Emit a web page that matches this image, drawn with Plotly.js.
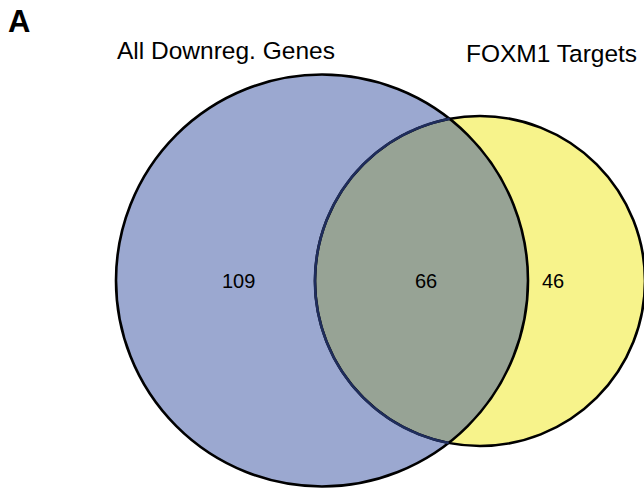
<!DOCTYPE html>
<html>
<head>
<meta charset="utf-8">
<script src="https://cdn.plot.ly/plotly-3.0.1.min.js"></script>
<style>html,body{margin:0;padding:0;background:#fff;}#chart{width:644px;height:493px;}</style>
</head>
<body>
<div id="chart"></div>
<script>
// ---- data ----
const panelLabel = "A";
const setNames = ["All Downreg. Genes", "FOXM1 Targets"];
const regionNames = ["Downreg. only", "Both", "FOXM1 only"];
const regionCounts = [109, 66, 46];

// ---- geometry / styles (layout, not data) ----
const c1 = {x: 322, y: 280.5, r: 206};
const c2 = {x: 480, y: 281, r: 165};
const colBlue = "#9BA8D0", colYellow = "#F7F38B", colOverlap = "#97A395", colNavy = "#1F2D5C";

function arcPts(c, a0, a1, n) {
  const pts = [];
  for (let i = 0; i <= n; i++) {
    const t = a0 + (a1 - a0) * i / n;
    pts.push([c.x + c.r * Math.cos(t), c.y + c.r * Math.sin(t)]);
  }
  return pts;
}
function toPath(pts, close) {
  return pts.map((p, i) => (i ? "L" : "M") + p[0].toFixed(2) + "," + p[1].toFixed(2)).join(" ") + (close ? " Z" : "");
}
const dx = c2.x - c1.x, dy = c2.y - c1.y, d = Math.hypot(dx, dy);
const base = Math.atan2(dy, dx);
const a = (d * d + c1.r * c1.r - c2.r * c2.r) / (2 * d);
const al1 = Math.acos(a / c1.r);
const al2 = Math.acos((d - a) / c2.r);
const lensPts = arcPts(c1, base - al1, base + al1, 200)
  .concat(arcPts(c2, base + Math.PI - al2, base + Math.PI + al2, 200));
const innerArc = arcPts(c2, base + Math.PI - al2, base + Math.PI + al2, 200);

const shapes = [
  {type: "circle", xref: "x", yref: "y", x0: c1.x - c1.r, x1: c1.x + c1.r, y0: c1.y - c1.r, y1: c1.y + c1.r,
   fillcolor: colBlue, line: {width: 0}},
  {type: "circle", xref: "x", yref: "y", x0: c2.x - c2.r, x1: c2.x + c2.r, y0: c2.y - c2.r, y1: c2.y + c2.r,
   fillcolor: colYellow, line: {width: 0}},
  {type: "path", xref: "x", yref: "y", path: toPath(lensPts, true), fillcolor: colOverlap, line: {width: 0}},
  {type: "circle", xref: "x", yref: "y", x0: c1.x - c1.r, x1: c1.x + c1.r, y0: c1.y - c1.r, y1: c1.y + c1.r,
   fillcolor: "rgba(0,0,0,0)", line: {color: "#000", width: 2.6}},
  {type: "circle", xref: "x", yref: "y", x0: c2.x - c2.r, x1: c2.x + c2.r, y0: c2.y - c2.r, y1: c2.y + c2.r,
   fillcolor: "rgba(0,0,0,0)", line: {color: "#000", width: 2.6}},
  {type: "path", xref: "x", yref: "y", path: toPath(innerArc, false), fillcolor: "rgba(0,0,0,0)", line: {color: colNavy, width: 2.6}}
];

const font = "Liberation Sans, Arial, sans-serif";
const countPos = [[238.5, 281], [425.5, 281], [553, 281]];
const namePos = [[226, 50], [551.5, 53]];
const annotations = [];
regionCounts.forEach((v, i) => annotations.push({
  x: countPos[i][0], y: countPos[i][1], xref: "x", yref: "y", text: String(v), showarrow: false,
  font: {family: font, size: 20, color: "#000"}, xanchor: "center", yanchor: "middle"
}));
setNames.forEach((s, i) => annotations.push({
  x: namePos[i][0], y: namePos[i][1], xref: "x", yref: "y", text: s, showarrow: false,
  font: {family: font, size: 24.5, color: "#000"}, xanchor: "center", yanchor: "middle"
}));
annotations.push({x: 19, y: 21, xref: "x", yref: "y", text: "<b>" + panelLabel + "</b>", showarrow: false,
  font: {family: font, size: 31, color: "#000"}, xanchor: "center", yanchor: "middle"});

const layout = {
  width: 644, height: 493,
  margin: {l: 0, r: 0, t: 0, b: 0},
  paper_bgcolor: "#fff", plot_bgcolor: "#fff",
  showlegend: false,
  xaxis: {range: [0, 644], visible: false, fixedrange: true},
  yaxis: {range: [493, 0], visible: false, fixedrange: true},
  shapes: shapes,
  annotations: annotations
};
Plotly.newPlot("chart", [{x: [], y: [], type: "scatter", mode: "markers", hoverinfo: "skip"}], layout, {staticPlot: true, displayModeBar: false});
</script>
</body>
</html>
